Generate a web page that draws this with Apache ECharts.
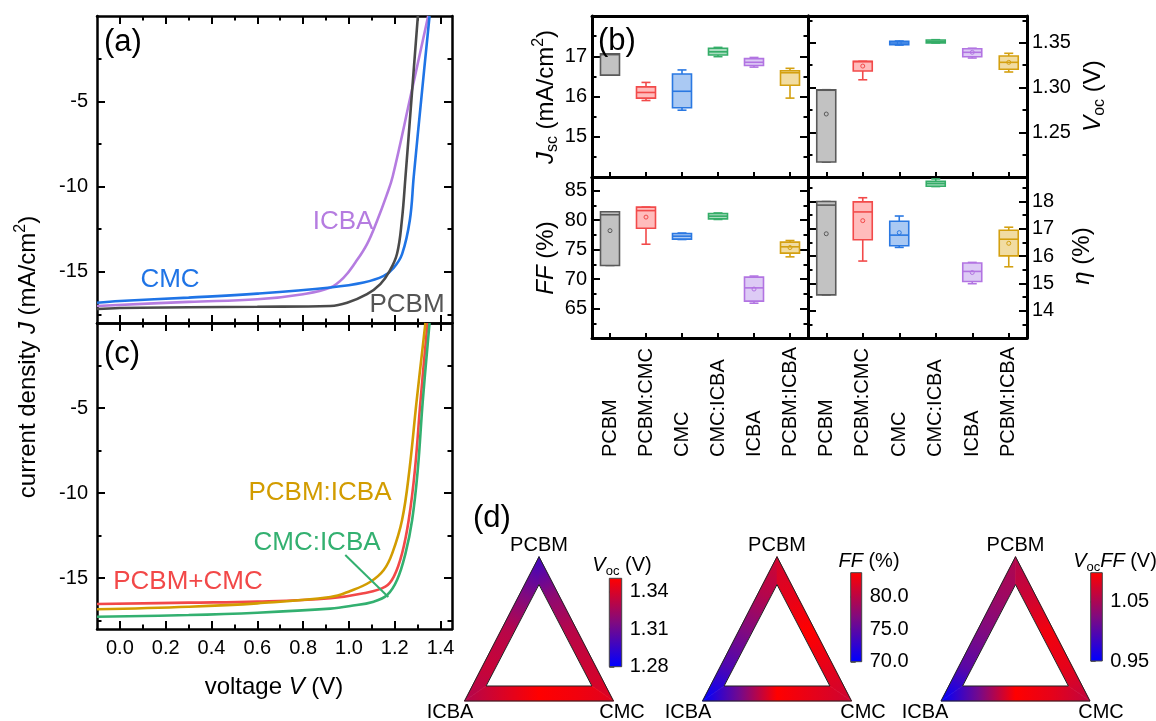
<!DOCTYPE html>
<html><head><meta charset="utf-8">
<script src="https://cdn.jsdelivr.net/npm/echarts@6/dist/echarts.min.js"></script>
<style>html,body{margin:0;padding:0;background:#fff}#c{width:1156px;height:721px}</style>
</head><body><div id="c"></div>
<script>
// ================= DATA =================
// J-V curves [V (V), J (mA/cm2)]
const jvPCBM = [[-0.1,-17.18],[0.0,-17.12],[0.3,-17.08],[0.6,-17.05],[0.919,-17.0],[0.992,-16.81],[1.079,-16.31],[1.137,-15.72],[1.178,-14.94],[1.210,-13.94],[1.231,-12.0],[1.247,-9.41],[1.274,-4.71],[1.301,0]];
const jvCMC = [[-0.1,-16.81],[0.0,-16.71],[0.3,-16.51],[0.6,-16.28],[0.919,-15.92],[1.064,-15.63],[1.152,-15.24],[1.196,-14.75],[1.232,-13.96],[1.266,-11.96],[1.283,-9.41],[1.317,-4.71],[1.352,0]];
const jvICBA = [[-0.1,-17.0],[0.3,-16.76],[0.6,-16.61],[0.8,-16.31],[0.919,-15.92],[0.977,-15.34],[1.028,-14.45],[1.079,-13.37],[1.123,-12.0],[1.164,-10.53],[1.191,-9.41],[1.269,-4.71],[1.346,0]];
const jvPCBM_CMC = [[-0.1,-16.53],[0.3,-16.45],[0.6,-16.39],[0.919,-16.19],[1.064,-15.9],[1.159,-15.51],[1.196,-14.92],[1.232,-13.55],[1.261,-11.59],[1.288,-8.65],[1.312,-4.65],[1.343,0]];
const jvPCBM_ICBA = [[-0.1,-16.84],[0.3,-16.69],[0.6,-16.49],[0.919,-16.12],[1.006,-15.76],[1.094,-15.22],[1.152,-14.53],[1.189,-13.55],[1.232,-11.59],[1.264,-8.65],[1.295,-4.65],[1.334,0]];
const jvCMC_ICBA = [[-0.1,-17.28],[0.3,-17.18],[0.6,-17.04],[0.919,-16.8],[1.006,-16.65],[1.108,-16.39],[1.167,-16.0],[1.210,-15.12],[1.247,-13.55],[1.276,-11.59],[1.3005,-8.65],[1.322,-4.65],[1.352,0]];
const leaderCMC_ICBA = [[0.984,-13.65],[1.172,-16.12]];

// Box plots: [min, Q1, median, Q3, max]; means (null = not drawn)
const categories = ['PCBM','PCBM:CMC','CMC','CMC:ICBA','ICBA','PCBM:ICBA'];
const jscBox = [[16.53,16.53,17.04,17.06,17.06],[15.90,15.96,16.10,16.24,16.35],[15.66,15.72,16.13,16.56,16.66],[16.99,17.03,17.11,17.20,17.22],[16.73,16.77,16.85,16.94,16.97],[15.96,16.28,16.59,16.64,16.70]];
const jscMean = [null,null,null,null,null,null];
const vocBox = [[1.2167,1.2167,1.2970,1.2976,1.2976],[1.3087,1.3185,1.3290,1.3293,1.3293],[1.3475,1.3479,1.3498,1.3517,1.3520],[1.3498,1.3500,1.3515,1.3532,1.3535],[1.3330,1.3345,1.3394,1.3434,1.3440],[1.3174,1.3204,1.3282,1.3353,1.3383]];
const vocMean = [1.2704,1.3240,1.3498,null,1.3394,1.3282];
const ffBox = [[72.3,72.3,80.9,81.4,81.4],[75.9,78.6,81.6,82.2,82.2],[76.7,76.76,77.27,77.71,77.8],[80.1,80.2,80.66,81.1,81.2],[65.9,66.25,68.5,70.32,70.5],[73.76,74.39,75.46,76.25,76.53]];
const ffMean = [78.2,80.5,null,null,68.3,75.34];
const etaBox = [[14.58,14.58,17.87,18.0,18.0],[15.82,16.60,17.62,17.99,18.14],[16.32,16.38,16.77,17.28,17.47],[18.55,18.56,18.66,18.74,18.83],[14.99,15.07,15.44,15.75,15.77],[15.61,16.01,16.62,16.95,17.06]];
const etaMean = [16.82,17.30,16.86,null,15.40,16.47];

// Tick labels
const jvXTicks = [0,0.2,0.4,0.6,0.8,1.0,1.2,1.4];
const jvXMinor = [0.1,0.3,0.5,0.7,0.9,1.1,1.3];
const jvYTicks = [-15,-10,-5];
const jvYMinor = [-17.5,-12.5,-7.5,-2.5];
const jscTicks = [15,16,17], jscMinor = [14.5,15.5,16.5,17.5];
const vocTicks = [1.25,1.30,1.35], vocMinor = [1.225,1.275,1.325,1.375];
const ffTicks = [65,70,75,80,85], ffMinor = [62.5,67.5,72.5,77.5,82.5];
const etaTicks = [14,15,16,17,18], etaMinor = [13.5,14.5,15.5,16.5,17.5,18.5];

// Ternary triangles: values along each edge (ICBA->PCBM, PCBM->CMC, CMC->ICBA), 5 samples each
const vocTri = [[1.3295,1.3351,1.3309,1.3154,1.2977],[1.2977,1.3189,1.3309,1.3366,1.3422],[1.3422,1.3472,1.3507,1.3401,1.3295]];
const ffTri = [[70.0,74.1,76.85,79.6,81.2],[81.2,82.3,83.7,82.3,81.0],[81.0,82.3,83.7,76.2,70.0]];
const vocffTri = [[0.95,1.002,1.0245,1.042,1.054],[1.054,1.069,1.0916,1.084,1.062],[1.062,1.084,1.099,1.017,0.95]];
const vocRange = [1.28,1.3507], ffRange = [70,83.7], vocffRange = [0.95,1.099];
const vocBarTicks = [1.28,1.31,1.34], ffBarTicks = [70,75,80], vocffBarTicks = [0.95,1.05];

// ================= STYLE =================
const FONT = "'Liberation Sans', Arial, Helvetica, sans-serif";
const BOX_STROKE = ['#5a5a5a','#f24a4a','#2a78e2','#35ad68','#b274e2','#d4a010'];
const BOX_FILL = ['#c2c2c2','#ffbcbc','#aac9f3','#a9dcbf','#ddcbf5','#f1dca2'];
const CMAP = [[0,[0,0,255]],[0.5,[128,10,128]],[1,[255,0,0]]];
function cmap(t){
  t = Math.max(0, Math.min(1, t));
  for (let k=0;k<CMAP.length-1;k++){
    const a=CMAP[k], b=CMAP[k+1];
    if (t<=b[0]){
      const f=(t-a[0])/(b[0]-a[0]);
      const c=a[1].map((v,j)=>Math.round(v+(b[1][j]-v)*f));
      return 'rgb('+c.join(',')+')';
    }
  }
  return 'rgb(255,0,0)';
}

const grids = [
  {left:97, top:16, width:355, height:307},   // 0 (a)
  {left:97, top:323, width:355, height:306},  // 1 (c)
  {left:592, top:16, width:216, height:161},  // 2 Jsc
  {left:808, top:16, width:219, height:161},  // 3 Voc
  {left:592, top:177, width:216, height:161}, // 4 FF
  {left:808, top:177, width:219, height:161}, // 5 eta
  {left:464.5, top:556.7, width:149, height:144.3}, // 6 tri Voc
  {left:702.5, top:556.7, width:149, height:144.3}, // 7 tri FF
  {left:941, top:556.7, width:149, height:144.3},   // 8 tri VocFF
  {left:609.3, top:578.3, width:12.4, height:88.4}, // 9 bar Voc
  {left:850.7, top:572.7, width:11, height:89},     // 10 bar FF
  {left:1090.7, top:572.7, width:11.6, height:88.3} // 11 bar VocFF
];

const xAxes = [], yAxes = [];
function addValueAxes(list, dim, gi, min, max, majors, minors, labelSide, labelOpt, lineW){
  const sides = dim==='x' ? ['bottom','top'] : ['left','right'];
  const first = list.length;
  sides.forEach(side=>{
    list.push({type:'value', gridIndex:gi, position:side, min:min, max:max,
      axisLine:{show:true, onZero:false, lineStyle:{color:'#000', width:lineW}},
      axisTick:{show:true, inside:true, length:8, customValues:majors, lineStyle:{color:'#000', width:2}},
      axisLabel: side===labelSide ? Object.assign({show:true, customValues:majors, color:'#000', fontSize:20, fontFamily:FONT}, labelOpt||{}) : {show:false},
      splitLine:{show:false}});
    list.push({type:'value', gridIndex:gi, position:side, min:min, max:max,
      axisLine:{show:false, onZero:false},
      axisTick:{show:true, inside:true, length:4.5, customValues:minors, lineStyle:{color:'#000', width:2}},
      axisLabel:{show:false}, splitLine:{show:false}});
  });
  return first;
}
function addCatAxes(gi, showLabels){
  const first = xAxes.length;
  xAxes.push({type:'category', gridIndex:gi, position:'bottom', data:categories, boundaryGap:true,
    axisLine:{show:true, onZero:false, lineStyle:{color:'#000', width:3}},
    axisTick:{show:true, inside:true, alignWithLabel:true, interval:0, length:5, lineStyle:{color:'#000', width:2}},
    axisLabel: showLabels ? {show:true, interval:0, rotate:90, align:'left', verticalAlign:'middle', margin:119, fontSize:20, fontFamily:FONT, color:'#000'} : {show:false},
    splitLine:{show:false}});
  xAxes.push({type:'category', gridIndex:gi, position:'top', data:categories, boundaryGap:true,
    axisLine:{show:true, onZero:false, lineStyle:{color:'#000', width:3}},
    axisTick:{show:false}, axisLabel:{show:false}, splitLine:{show:false}});
  return first;
}
function addHidden(gi){
  xAxes.push({type:'value', gridIndex:gi, min:0, max:1, show:false});
  yAxes.push({type:'value', gridIndex:gi, min:0, max:1, show:false});
  return [xAxes.length-1, yAxes.length-1];
}

const f1 = v => Number(v).toFixed(1), f2 = v => Number(v).toFixed(2);
// (a)
const xa = addValueAxes(xAxes,'x',0,-0.1,1.45,jvXTicks,jvXMinor,null,null,2.5);
const ya = addValueAxes(yAxes,'y',0,-18,0,jvYTicks,jvYMinor,'left',{margin:9},2.5);
// (c)
const xc = addValueAxes(xAxes,'x',1,-0.1,1.45,jvXTicks,jvXMinor,'bottom',{margin:9, formatter:f1},2.5);
const yc = addValueAxes(yAxes,'y',1,-18,0,jvYTicks,jvYMinor,'left',{margin:9},2.5);
// (b)
const xb1 = addCatAxes(2,false), yb1 = addValueAxes(yAxes,'y',2,14,18,jscTicks,jscMinor,'left',{margin:5},3);
const xb2 = addCatAxes(3,false), yb2 = addValueAxes(yAxes,'y',3,1.2,1.38,vocTicks,vocMinor,'right',{margin:5, formatter:f2},3);
const xb3 = addCatAxes(4,true),  yb3 = addValueAxes(yAxes,'y',4,60,87.3,ffTicks,ffMinor,'left',{margin:5},3);
const xb4 = addCatAxes(5,true),  yb4 = addValueAxes(yAxes,'y',5,13,18.9,etaTicks,etaMinor,'right',{margin:5},3);
// triangles
const t1 = addHidden(6), t2 = addHidden(7), t3 = addHidden(8);
// colour bars
function addBar(gi, range, ticks, fmt){
  xAxes.push({type:'value', gridIndex:gi, min:0, max:1, show:false});
  yAxes.push({type:'value', gridIndex:gi, position:'right', min:range[0], max:range[1],
    axisLine:{show:false}, splitLine:{show:false},
    axisTick:{show:true, inside:false, length:5, customValues:ticks, lineStyle:{color:'#333', width:1.5}},
    axisLabel:{show:true, customValues:ticks, margin:8, fontSize:20, fontFamily:FONT, color:'#000', formatter:fmt}});
  return [xAxes.length-1, yAxes.length-1];
}
const b1 = addBar(9, vocRange, vocBarTicks, f2);
const b2 = addBar(10, ffRange, ffBarTicks, f1);
const b3 = addBar(11, vocffRange, vocffBarTicks, f2);

// ================= SERIES =================
function jvLine(data, color, xi, yi){
  return {type:'line', xAxisIndex:xi, yAxisIndex:yi, data:data, showSymbol:false, symbol:'none',
    smooth:0.4, lineStyle:{color:color, width:2.6}, itemStyle:{color:color}, z:3, silent:true};
}
function boxSeries(box, means, xi, yi){
  return {type:'custom', xAxisIndex:xi, yAxisIndex:yi, silent:true, z:4,
    data: box.map((d,i)=>[i].concat(d)),
    encode:{x:0, y:[1,2,3,4,5]},
    renderItem:function(params, api){
      const i = api.value(0);
      const Y = v => api.coord([i, v])[1];
      const xcn = api.coord([i, api.value(3)])[0];
      const bw = 19, cw = 9;
      const stroke = BOX_STROKE[i], fill = BOX_FILL[i];
      const ls = {stroke:stroke, lineWidth:1.6, fill:null};
      const mn=Y(api.value(1)), q1=Y(api.value(2)), md=Y(api.value(3)), q3=Y(api.value(4)), mx=Y(api.value(5));
      const ch = [
        {type:'line', shape:{x1:xcn,y1:mx,x2:xcn,y2:q3}, style:ls},
        {type:'line', shape:{x1:xcn,y1:q1,x2:xcn,y2:mn}, style:ls},
        {type:'line', shape:{x1:xcn-cw/2,y1:mx,x2:xcn+cw/2,y2:mx}, style:ls},
        {type:'line', shape:{x1:xcn-cw/2,y1:mn,x2:xcn+cw/2,y2:mn}, style:ls},
        {type:'rect', shape:{x:xcn-bw/2, y:q3, width:bw, height:Math.max(q1-q3,1.5)}, style:{fill:fill, stroke:stroke, lineWidth:1.6}},
        {type:'line', shape:{x1:xcn-bw/2,y1:md,x2:xcn+bw/2,y2:md}, style:ls}
      ];
      const m = means[i];
      if (m !== null && m !== undefined){
        ch.push({type:'circle', shape:{cx:xcn, cy:Y(m), r:2}, style:{fill:null, stroke:stroke, lineWidth:1}});
      }
      return {type:'group', children:ch};
    }};
}
const OUTER = [[0,0],[0.5,1],[1,0]];
const INNER = [[0.145,0.104],[0.5,0.807],[0.855,0.104]];
function triSeries(edgeVals, range, ax){
  return {type:'custom', xAxisIndex:ax[0], yAxisIndex:ax[1], silent:true, data:[[0.5,0.5]],
    renderItem:function(params, api){
      const O = OUTER.map(p=>api.coord(p)), I = INNER.map(p=>api.coord(p));
      const ch = [];
      for (let e=0;e<3;e++){
        const a=e, b=(e+1)%3, vals=edgeVals[e];
        const stops = vals.map((v,k)=>({offset:k/(vals.length-1), color:cmap((v-range[0])/(range[1]-range[0]))}));
        const grad = new echarts.graphic.LinearGradient(O[a][0],O[a][1],O[b][0],O[b][1],stops,true);
        ch.push({type:'polygon', shape:{points:[O[a],O[b],I[b],I[a]]}, style:{fill:grad, stroke:grad, lineWidth:0.6}});
      }
      ch.push({type:'polygon', shape:{points:O}, style:{fill:null, stroke:'#222', lineWidth:1}});
      ch.push({type:'polygon', shape:{points:I}, style:{fill:'#fff', stroke:'#222', lineWidth:1}});
      return {type:'group', children:ch};
    }};
}
function barSeries(range, ax){
  return {type:'custom', xAxisIndex:ax[0], yAxisIndex:ax[1], silent:true, data:[[0, range[0], range[1]]],
    renderItem:function(params, api){
      const p0 = api.coord([0, api.value(1)]), p1 = api.coord([1, api.value(2)]);
      const grad = new echarts.graphic.LinearGradient(0,p0[1],0,p1[1],[{offset:0,color:cmap(0)},{offset:0.5,color:cmap(0.5)},{offset:1,color:cmap(1)}],true);
      return {type:'rect', shape:{x:p0[0], y:p1[1], width:p1[0]-p0[0], height:p0[1]-p1[1]}, style:{fill:grad, stroke:'#444', lineWidth:1}};
    }};
}

const series = [
  jvLine(jvICBA,'#b57ce0',xa,ya),
  jvLine(jvCMC,'#1f74e6',xa,ya),
  jvLine(jvPCBM,'#4a4a4a',xa,ya),
  jvLine(jvPCBM_CMC,'#f24848',xc,yc),
  jvLine(jvCMC_ICBA,'#33b070',xc,yc),
  jvLine(jvPCBM_ICBA,'#d29c00',xc,yc),
  {type:'line', xAxisIndex:xc, yAxisIndex:yc, data:leaderCMC_ICBA, showSymbol:false, symbol:'none', lineStyle:{color:'#33b070', width:2}, silent:true, z:4},
  boxSeries(jscBox, jscMean, xb1, yb1),
  boxSeries(vocBox, vocMean, xb2, yb2),
  boxSeries(ffBox, ffMean, xb3, yb3),
  boxSeries(etaBox, etaMean, xb4, yb4),
  triSeries(vocTri, vocRange, t1),
  triSeries(ffTri, ffRange, t2),
  triSeries(vocffTri, vocffRange, t3),
  barSeries(vocRange, b1),
  barSeries(ffRange, b2),
  barSeries(vocffRange, b3)
];

// ================= TEXT =================
function rich(fs){
  const sfs = Math.round(fs*0.66);
  return {
    i:{fontStyle:'italic', fontSize:fs, fontFamily:FONT, fill:'#000', color:'#000'},
    sub:{fontSize:sfs, fontFamily:FONT, fill:'#000', color:'#000', padding:[Math.round(fs*0.6),0,0,0]},
    sup:{fontSize:sfs, fontFamily:FONT, fill:'#000', color:'#000', padding:[0,0,Math.round(fs*0.6),0]}
  };
}
function txt(text, x, y, fs, color, opt){
  opt = opt || {};
  return {type:'text', x:x, y:y, rotation:opt.rot||0, z:10, silent:true,
    style:{text:text, fontSize:fs, fontFamily:FONT, fill:color||'#000',
      align:opt.align||'center', verticalAlign:'middle', textAlign:opt.align||'center', textVerticalAlign:'middle',
      fontStyle:opt.italic?'italic':'normal', rich:rich(fs)}};
}
const R90 = Math.PI/2;
const graphic = [
  txt('(a)',104,42,31,'#000',{align:'left'}),
  txt('(c)',104,354,31,'#000',{align:'left'}),
  txt('(b)',598,41,31,'#000',{align:'left'}),
  txt('(d)',473,518,31,'#000',{align:'left'}),
  txt('ICBA',343,222,26,'#b57ce0'),
  txt('CMC',170,280,26,'#1f74e6'),
  txt('PCBM',407,305,26,'#555555'),
  txt('PCBM:ICBA',320,493,26,'#d29c00'),
  txt('CMC:ICBA',317,543,26,'#33b070'),
  txt('PCBM+CMC',188,582,26,'#f24848'),
  txt('current density {i|J} (mA/cm{sup|2})',28,357,24,'#000',{rot:R90}),
  txt('voltage {i|V} (V)',274,687,24,'#000'),
  txt('{i|J}{sub|sc} (mA/cm{sup|2})',546,97,24,'#000',{rot:R90}),
  txt('{i|FF} (%)',546,258,24,'#000',{rot:R90}),
  txt('{i|V}{sub|oc} (V)',1093,96,24,'#000',{rot:R90}),
  txt('{i|η} (%)',1082,256,24,'#000',{rot:R90}),
  txt('PCBM',539,545,20), txt('ICBA',450,712,20), txt('CMC',622,712,20),
  txt('PCBM',777,545,20), txt('ICBA',688,712,20), txt('CMC',863,712,20),
  txt('PCBM',1015.5,545,20), txt('ICBA',925,712,20), txt('CMC',1101,712,20),
  txt('{i|V}{sub|oc} (V)',622,565,20),
  txt('{i|FF} (%)',869,561,20),
  txt('{i|V}{sub|oc}{i|FF} (V)',1115,561,20)
];

const chart = echarts.init(document.getElementById('c'), null, {renderer:'canvas'});
chart.setOption({
  animation:false,
  backgroundColor:'#fff',
  textStyle:{fontFamily:FONT},
  grid:grids,
  xAxis:xAxes,
  yAxis:yAxes,
  series:series,
  graphic:graphic
});
</script></body></html>
